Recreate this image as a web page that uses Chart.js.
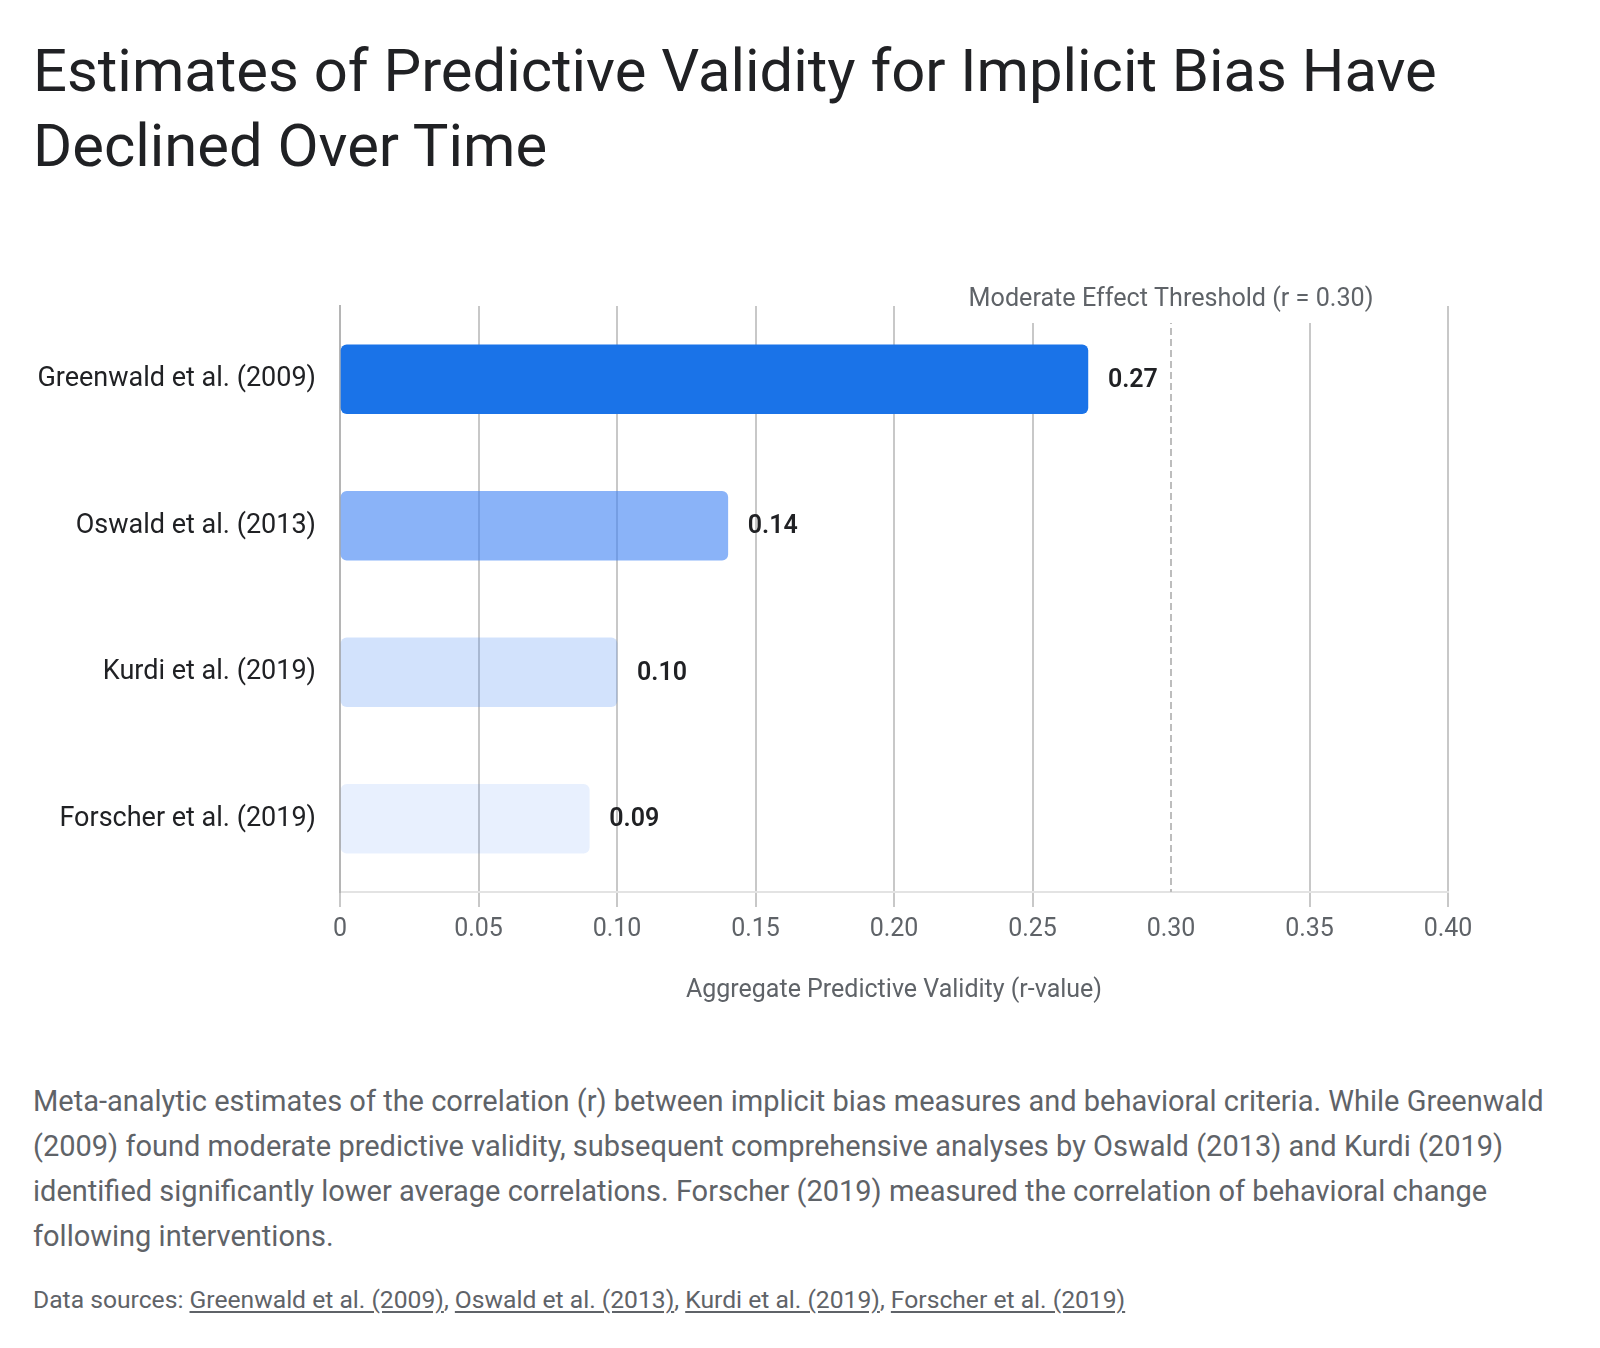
<!DOCTYPE html>
<html>
<head>
<meta charset="utf-8">
<script src="https://cdn.jsdelivr.net/npm/chart.js@4.4.1/dist/chart.umd.min.js"></script>
<style>
html,body{margin:0;padding:0;background:#ffffff;}
body{width:1600px;height:1348px;position:relative;overflow:hidden;font-family:'Google Sans',Roboto,'Open Sans',Arial,sans-serif;}
#title{position:absolute;left:33px;top:34px;margin:0;font-size:58px;font-weight:400;line-height:75px;color:#202124;white-space:nowrap;}
#title span,#caption span{display:block;}
#wrap{position:absolute;left:0;top:240px;width:1600px;height:790px;}
#caption{position:absolute;left:33px;top:1079px;margin:0;font-size:25px;line-height:45px;color:#5f6368;white-space:nowrap;}
#sources{position:absolute;left:33px;top:1287px;margin:0;font-size:21px;line-height:26px;color:#5f6368;white-space:nowrap;}
#sources a{color:#5f6368;text-decoration:underline;text-underline-offset:3px;}
</style>
</head>
<body>
<h1 id="title"><span id="t1">Estimates of Predictive Validity for Implicit Bias Have</span><span>Declined Over Time</span></h1>
<div id="wrap"><canvas id="chart" width="1600" height="790"></canvas></div>
<p id="caption"><span id="c1">Meta-analytic estimates of the correlation (r) between implicit bias measures and behavioral criteria. While Greenwald</span><span>(2009) found moderate predictive validity, subsequent comprehensive analyses by Oswald (2013) and Kurdi (2019)</span><span>identified significantly lower average correlations. Forscher (2019) measured the correlation of behavioral change</span><span>following interventions.</span></p>
<p id="sources">Data sources: <a href="#">Greenwald et al. (2009)</a>, <a href="#">Oswald et al. (2013)</a>, <a href="#">Kurdi et al. (2019)</a>, <a href="#">Forscher et al. (2019)</a></p>
<script>
// ---- data ----
const categories = ['Greenwald et al. (2009)', 'Oswald et al. (2013)', 'Kurdi et al. (2019)', 'Forscher et al. (2019)'];
const values = [0.27, 0.14, 0.10, 0.09];
const valueLabels = ['0.27', '0.14', '0.10', '0.09'];
const xTickLabels = ['0', '0.05', '0.10', '0.15', '0.20', '0.25', '0.30', '0.35', '0.40'];
const thresholdValue = 0.30;
const thresholdLabel = 'Moderate Effect Threshold (r = 0.30)';
const xAxisTitle = 'Aggregate Predictive Validity (r-value)';

// ---- styles ----
const FONT = "'Google Sans', Roboto, 'Open Sans', Arial, sans-serif";
const barColors = ['#1a73e8', 'rgba(66,133,244,0.62)', 'rgba(66,133,244,0.24)', 'rgba(66,133,244,0.12)'];

const measureSpan = (el) => { const r = document.createRange(); r.selectNodeContents(el); return r; };
(function(){
  const t = document.getElementById('title'), t1 = document.getElementById('t1');
  const w1 = measureSpan(t1).getBoundingClientRect().width;
  t.style.fontSize = (58 * 1404 / w1) + 'px';
  const c = document.getElementById('caption'), c1 = document.getElementById('c1');
  const w2 = measureSpan(c1).getBoundingClientRect().width;
  c.style.fontSize = (25 * 1511 / w2) + 'px';
  const s = document.getElementById('sources');
  const w3 = measureSpan(s).getBoundingClientRect().width;
  s.style.fontSize = (21 * 1093 / w3) + 'px';
})();

const valueLabelPlugin = {
  id: 'valueLabels',
  afterDatasetsDraw(chart) {
    const ctx = chart.ctx;
    const meta = chart.getDatasetMeta(0);
    ctx.save();
    ctx.font = '600 25px ' + FONT;
    ctx.fillStyle = '#202124';
    ctx.textAlign = 'left';
    ctx.textBaseline = 'middle';
    meta.data.forEach((bar, i) => {
      ctx.fillText(valueLabels[i], bar.x + 20, bar.y + 1);
    });
    ctx.restore();
  }
};

const thresholdPlugin = {
  id: 'threshold',
  afterDraw(chart) {
    const ctx = chart.ctx;
    const area = chart.chartArea;
    const x = Math.round(chart.scales.x.getPixelForValue(thresholdValue));
    ctx.save();
    ctx.strokeStyle = '#bdbdbd';
    ctx.lineWidth = 2;
    ctx.setLineDash([7, 4]);
    ctx.beginPath();
    ctx.moveTo(x, area.top);
    ctx.lineTo(x, area.bottom);
    ctx.stroke();
    ctx.setLineDash([]);
    ctx.font = '400 22px ' + FONT;
    const w0 = ctx.measureText(thresholdLabel).width;
    const fs = 22 * 405 / w0;
    ctx.font = '400 ' + fs + 'px ' + FONT;
    const tw = ctx.measureText(thresholdLabel).width;
    ctx.fillStyle = '#ffffff';
    ctx.fillRect(x - tw / 2 - 6, area.top - 34, tw + 12, 51);
    ctx.fillStyle = '#5f6368';
    ctx.textAlign = 'center';
    ctx.textBaseline = 'middle';
    ctx.fillText(thresholdLabel, x, area.top - 6);
    ctx.restore();
  }
};

const isThreshold = (ctx) => ctx.tick && Math.abs(ctx.tick.value - thresholdValue) < 1e-6;

new Chart(document.getElementById('chart'), {
  type: 'bar',
  data: {
    labels: categories,
    datasets: [{
      data: values,
      backgroundColor: barColors,
      borderWidth: 0,
      borderRadius: 6,
      borderSkipped: false,
      barThickness: 69
    }]
  },
  options: {
    indexAxis: 'y',
    responsive: false,
    animation: false,
    layout: { padding: { top: 66, right: 152, left: 0, bottom: 0 } },
    plugins: { legend: { display: false }, tooltip: { enabled: false }, title: { display: false } },
    scales: {
      x: {
        type: 'linear',
        min: 0,
        max: 0.4,
        ticks: {
          stepSize: 0.05,
          color: '#5f6368',
          font: { family: FONT, size: 25 },
          padding: 8,
          callback: (v, i) => xTickLabels[i]
        },
        grid: {
          color: (ctx) => isThreshold(ctx) ? 'rgba(0,0,0,0)' : '#c8c8c8',
          lineWidth: 2, tickLength: 15, drawTicks: true
        },
        border: { display: true, color: '#e3e3e3', width: 2 },
        title: {
          display: true,
          text: xAxisTitle,
          color: '#5f6368',
          font: { family: FONT, size: 25 },
          padding: { top: 0, bottom: 24 }
        },
        afterFit: (axis) => { axis.height = 138; }
      },
      y: {
        ticks: {
          color: '#202124',
          font: { family: FONT, size: 27 },
          padding: 24
        },
        grid: { display: false, drawTicks: false },
        border: { display: true, color: '#b5b5b5', width: 2 },
        afterFit: (axis) => { axis.width = 340; }
      }
    }
  },
  plugins: [valueLabelPlugin, thresholdPlugin]
});
</script>
</body>
</html>
